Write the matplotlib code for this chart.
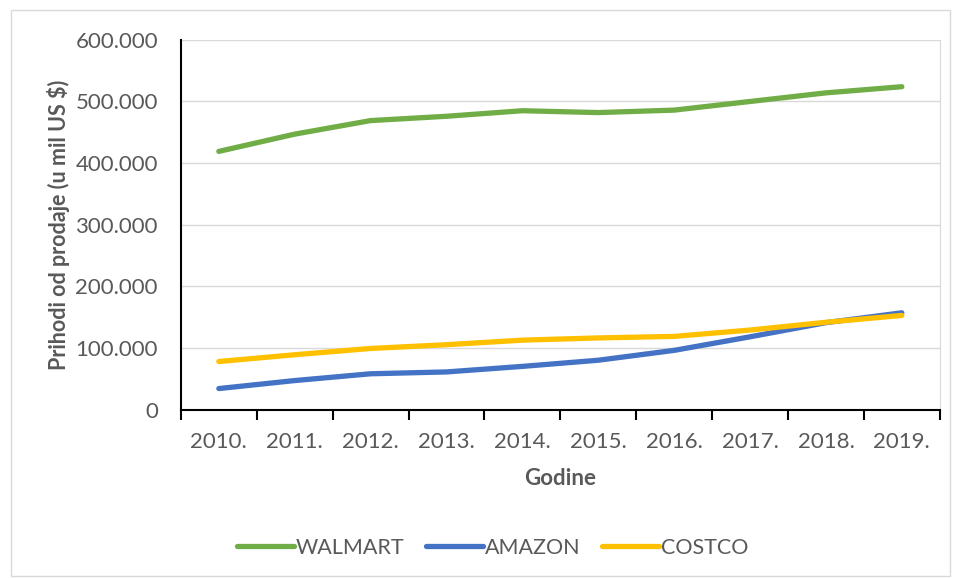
import matplotlib.pyplot as plt
from matplotlib.ticker import FuncFormatter, FixedLocator
from matplotlib.patches import Rectangle

# Data (u mil US $)
years = ['2010.', '2011.', '2012.', '2013.', '2014.', '2015.', '2016.', '2017.', '2018.', '2019.']
walmart = [419000, 447000, 469000, 476000, 485000, 482000, 486000, 500000, 514000, 524000]
amazon = [34000, 47000, 58000, 61000, 70000, 80000, 96000, 118000, 141000, 157000]
costco = [77900, 88900, 99100, 105200, 112600, 116200, 118700, 129000, 141600, 152700]

plt.rcParams['font.family'] = ['Lato', 'DejaVu Sans']
grey = '#595959'

fig = plt.figure(figsize=(9.57, 5.78), dpi=100)
ax = fig.add_axes([0.189, 0.2915, 0.793, 0.6395])

x = range(len(years))
ax.plot(x, walmart, color='#70AD47', lw=3.8, solid_capstyle='round', label='WALMART')
ax.plot(x, amazon, color='#4472C4', lw=3.8, solid_capstyle='round', label='AMAZON')
ax.plot(x, costco, color='#FFC000', lw=3.8, solid_capstyle='round', label='COSTCO')

ax.set_xlim(-0.5, len(years) - 0.5)
ax.set_ylim(0, 600000)
ax.set_yticks(range(0, 600001, 100000))
ax.yaxis.set_major_formatter(FuncFormatter(lambda v, p: f'{int(v):,}'.replace(',', '.')))
ax.grid(axis='y', color='#D9D9D9', lw=1)
ax.set_axisbelow(True)

# category ticks between the years
ax.xaxis.set_major_locator(FixedLocator([i - 0.5 for i in range(len(years) + 1)]))
ax.xaxis.set_major_formatter(FuncFormatter(lambda v, p: ''))
ax.xaxis.set_minor_locator(FixedLocator(list(x)))
ax.set_xticklabels(years, minor=True)
ax.tick_params(axis='x', which='major', direction='out', length=7, width=1.5, color='black')
ax.tick_params(axis='x', which='minor', length=0, pad=16, labelsize=16, labelcolor=grey)
ax.tick_params(axis='y', length=0, pad=16.5, labelsize=16, labelcolor=grey)

for s in ['left', 'bottom']:
    ax.spines[s].set_color('black')
    ax.spines[s].set_linewidth(1.5)
ax.spines['top'].set_visible(False)
ax.spines['right'].set_color('#D9D9D9')

ax.set_xlabel('Godine', fontsize=16, fontweight='bold', color=grey, labelpad=12)
ax.set_ylabel('Prihodi od prodaje (u mil US $)', fontsize=15.5, fontweight='bold', color=grey, labelpad=4)

fig.legend(loc='center', bbox_to_anchor=(0.515, 0.052), ncol=3, frameon=False,
           fontsize=15.5, labelcolor=grey, handlelength=2.65, columnspacing=1.0, handletextpad=0.08)

fig.patches.append(Rectangle((0.011, 0.004), 0.982, 0.978, transform=fig.transFigure,
                             fill=False, edgecolor='#D9D9D9', lw=1))

fig.savefig('out.png', dpi=100)
